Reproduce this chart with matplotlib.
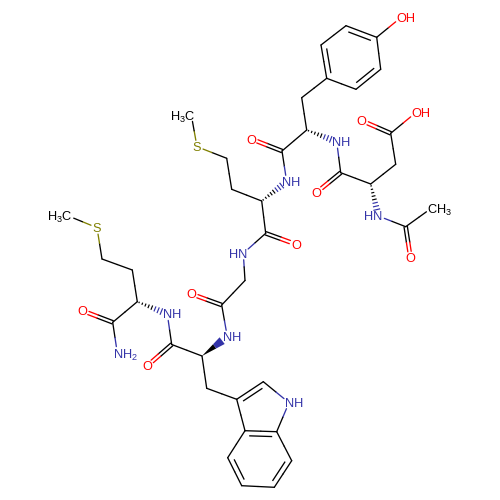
import numpy as np
import matplotlib
matplotlib.use("Agg")
import matplotlib.pyplot as plt

plt.rcParams["font.family"] = ["Liberation Sans", "DejaVu Sans"]
plt.rcParams["mathtext.default"] = "regular"

# atom positions (pixels, y down)
atom_x = dict(
    c1=376.7, c2=346, c3=321, c4=326.7, c5=356, c6=380.7, oh1=400.7,
    cb_tyr=301.7, ca_tyr=306.7, c_tyr=282, o_tyr=251.3, n_tyr=336.7,
    c_asp=340.7, o_asp=316.7, ca_asp=370.7, cb_asp=395.7, cg_asp=390.7,
    o2_asp=361.7, oh2=415.7, n_asp=378.3, c_ac=405.7, me_ac=431.7, o_ac=410.5,
    n_met=286.7, ca_met=261.7, cb_met=231.7, cg_met=226.7, s_met=197, me_met=191.3,
    c_met=265.7, o_met=296, n_gly=243.3, ca_gly=245, c_gly=221.7, o_gly=191.3,
    n_trp=227.3, ca_trp=202, c_trp=171.7, o_trp=147.3, cb_trp=206.7,
    i3=236.7, i2=263.3, n_ind=289, i7a=276.7, i3a=245, i4=227.7, i5=241.7, i6=274.3, i7=291.7,
    n_met2=167.3, ca_met2=137.3, cb_met2=132.3, cg_met2=102, s_met2=97, me_met2=67.7,
    c_met2=112.7, o_met2=82.3, n_am=117.3,
)
atom_y = dict(
    c1=37.3, c2=25.7, c3=45, c4=78.3, c5=89.3, c6=69.3, oh1=17.7,
    cb_tyr=97.7, ca_tyr=130, c_tyr=151, o_tyr=139, n_tyr=141.7,
    c_asp=172.7, o_asp=192.3, ca_asp=184, cb_asp=164.3, cg_asp=133.3,
    o2_asp=120.7, oh2=112.7, n_asp=216, c_ac=226.7, me_ac=208, o_ac=258,
    n_met=181.7, ca_met=201, cb_met=189.3, cg_met=158.3, s_met=146.7, me_met=115,
    c_met=233.3, o_met=244.3, n_gly=253.3, ca_gly=280.5, c_gly=305, o_gly=294,
    n_trp=336.7, ca_trp=356, c_trp=344.5, o_trp=365.7, cb_trp=388.3,
    i3=399.3, i2=381.7, n_ind=402.7, i7a=431.7, i3a=430.7, i4=457.7, i5=485.7, i6=487.3, i7=460.7,
    n_met2=314, ca_met2=301.7, cb_met2=270, cg_met2=259, s_met2=227.7, me_met2=215.7,
    c_met2=322.3, o_met2=310.7, n_am=353,
)

# labelled atoms: text, alignment
labels = {
    "oh1": ("OH", "left"), "oh2": ("OH", "left"),
    "o_tyr": ("O", "center"), "o_asp": ("O", "center"), "o2_asp": ("O", "center"),
    "o_ac": ("O", "center"), "o_met": ("O", "center"), "o_gly": ("O", "center"),
    "o_trp": ("O", "center"), "o_met2": ("O", "center"),
    "n_tyr": ("NH", "left"), "n_met": ("NH", "left"), "n_asp": ("HN", "right"),
    "n_gly": ("HN", "right"), "n_trp": ("NH", "left"), "n_met2": ("NH", "left"),
    "n_ind": ("NH", "left"), "n_am": ("NH$_2$", "left"),
    "s_met": ("S", "center"), "s_met2": ("S", "center"),
    "me_ac": ("CH$_3$", "left"), "me_met": ("H$_3$C", "right"), "me_met2": ("H$_3$C", "right"),
}

single_bonds = [
    ("c1", "oh1"), ("c2", "c3"), ("c4", "c5"), ("c6", "c1"), ("c4", "cb_tyr"), ("cb_tyr", "ca_tyr"),
    ("ca_tyr", "c_tyr"), ("c_tyr", "n_met"), ("n_tyr", "c_asp"), ("c_asp", "ca_asp"),
    ("ca_asp", "cb_asp"), ("cb_asp", "cg_asp"), ("cg_asp", "oh2"), ("n_asp", "c_ac"), ("c_ac", "me_ac"),
    ("ca_met", "cb_met"), ("cb_met", "cg_met"), ("cg_met", "s_met"), ("s_met", "me_met"),
    ("ca_met", "c_met"), ("c_met", "n_gly"), ("n_gly", "ca_gly"), ("ca_gly", "c_gly"), ("c_gly", "n_trp"),
    ("ca_trp", "c_trp"), ("c_trp", "n_met2"), ("ca_trp", "cb_trp"), ("cb_trp", "i3"),
    ("i2", "n_ind"), ("n_ind", "i7a"), ("i3", "i3a"), ("i3a", "i4"), ("i5", "i6"), ("i7", "i7a"),
    ("ca_met2", "cb_met2"), ("cb_met2", "cg_met2"), ("cg_met2", "s_met2"), ("s_met2", "me_met2"),
    ("ca_met2", "c_met2"), ("c_met2", "n_am"),
]
carbonyls = [
    ("c_tyr", "o_tyr"), ("c_asp", "o_asp"), ("cg_asp", "o2_asp"), ("c_ac", "o_ac"),
    ("c_met", "o_met"), ("c_gly", "o_gly"), ("c_trp", "o_trp"), ("c_met2", "o_met2"),
]
# ring double bonds, with the atom the inner line leans towards
ring_doubles = [
    ("c1", "c2", "c4"), ("c3", "c4", "c6"), ("c5", "c6", "c2"),
    ("i3", "i2", "i7a"), ("i3a", "i7a", "i5"), ("i4", "i5", "i7"), ("i6", "i7", "i3a"),
]
hash_bonds = [("ca_tyr", "n_tyr"), ("ca_met", "n_met"), ("ca_asp", "n_asp"), ("ca_met2", "n_met2")]
wedge_bonds = [("ca_trp", "n_trp")]

BLACK = "#000000"
colors = {"n": "#3333a8", "o": "#ff0000", "s": "#808000"}
LW = 0.95
GAP = 6.5


def pos(a):
    return np.array([atom_x[a], atom_y[a]])


def atom_color(a):
    if a not in labels:
        return BLACK
    txt = labels[a][0]
    if "N" in txt:
        return colors["n"]
    if "O" in txt:
        return colors["o"]
    if "S" in txt:
        return colors["s"]
    return BLACK


def draw_bond(ax, a, b, shift=(0, 0)):
    pa, pb = pos(a), pos(b)
    u = (pb - pa) / np.linalg.norm(pb - pa)
    mid = (pa + pb) / 2
    start = pa + u * GAP if a in labels else pa
    end = pb - u * GAP if b in labels else pb
    s = np.array(shift)
    for p, q, col in [(start, mid, atom_color(a)), (mid, end, atom_color(b))]:
        ax.plot([p[0] + s[0], q[0] + s[0]], [p[1] + s[1], q[1] + s[1]], color=col, lw=LW,
                solid_capstyle="round")


fig = plt.figure(figsize=(5, 5), dpi=100)
ax = fig.add_axes([0, 0, 1, 1])
ax.set_xlim(0, 500)
ax.set_ylim(500, 0)
ax.axis("off")

for a, b in single_bonds:
    draw_bond(ax, a, b)

for a, b in carbonyls:
    u = pos(b) - pos(a)
    u = u / np.linalg.norm(u)
    n = np.array([-u[1], u[0]])
    draw_bond(ax, a, b, n * 1.7)
    draw_bond(ax, a, b, -n * 1.7)

for a, b, inner in ring_doubles:
    draw_bond(ax, a, b)
    pa, pb = pos(a), pos(b)
    u = (pb - pa) / np.linalg.norm(pb - pa)
    n = np.array([-u[1], u[0]])
    if np.dot(n, pos(inner) - pa) < 0:
        n = -n
    p = pa + u * 5 + n * 5
    q = pb - u * 5 + n * 5
    ax.plot([p[0], q[0]], [p[1], q[1]], color=BLACK, lw=LW)

for a, b in hash_bonds:
    pa, pb = pos(a), pos(b)
    length = np.linalg.norm(pb - pa)
    u = (pb - pa) / length
    n = np.array([-u[1], u[0]])
    for t in np.linspace(0.06, 0.8, 8):
        c = pa + (pb - pa) * t
        hw = 3.6 * t
        col = BLACK if t < 0.5 else atom_color(b)
        ax.plot([c[0] - n[0] * hw, c[0] + n[0] * hw], [c[1] - n[1] * hw, c[1] + n[1] * hw],
                color=col, lw=0.85)

for a, b in wedge_bonds:
    pa, pb = pos(a), pos(b)
    u = (pb - pa) / np.linalg.norm(pb - pa)
    n = np.array([-u[1], u[0]])
    end = pb - u * GAP
    mid = (pa + pb) / 2
    hw_end = 4.2
    hw_mid = hw_end * np.linalg.norm(mid - pa) / np.linalg.norm(end - pa)
    ax.fill([pa[0], mid[0] + n[0] * hw_mid, mid[0] - n[0] * hw_mid],
            [pa[1], mid[1] + n[1] * hw_mid, mid[1] - n[1] * hw_mid], color=BLACK, lw=0)
    ax.fill([mid[0] + n[0] * hw_mid, end[0] + n[0] * hw_end, end[0] - n[0] * hw_end, mid[0] - n[0] * hw_mid],
            [mid[1] + n[1] * hw_mid, end[1] + n[1] * hw_end, end[1] - n[1] * hw_end, mid[1] - n[1] * hw_mid],
            color=atom_color(b), lw=0)

for a, (txt, align) in labels.items():
    x, y = atom_x[a], atom_y[a]
    if align == "left":
        x -= 4.3
    elif align == "right":
        x += 4.3
    ax.text(x, y, txt, color=atom_color(a), fontsize=9.2, ha=align, va="center_baseline")

fig.savefig("out.png", dpi=100, facecolor="white")
